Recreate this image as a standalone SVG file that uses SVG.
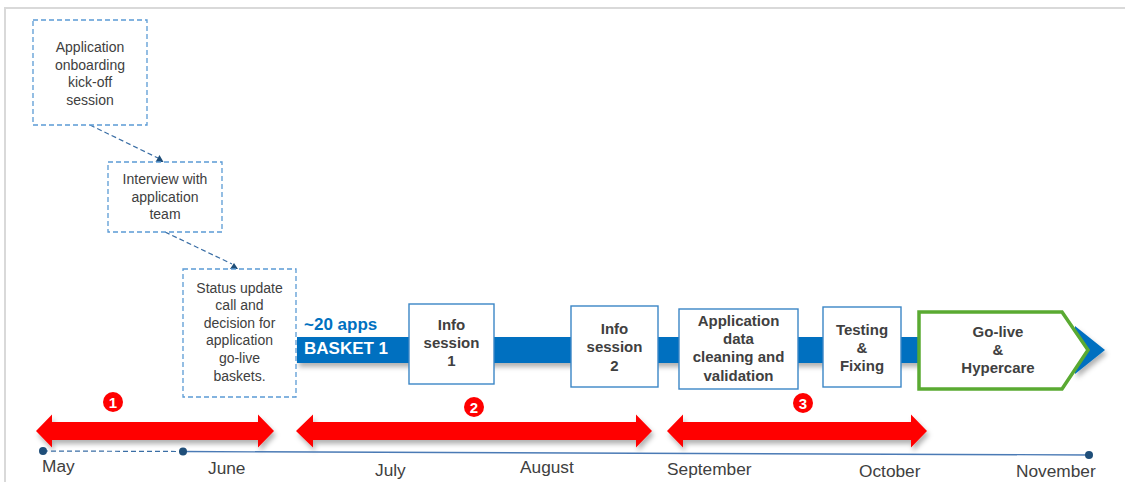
<svg xmlns="http://www.w3.org/2000/svg" width="1125" height="482" viewBox="0 0 1125 482">
  <defs>
    <filter id="shadow" x="-5%" y="-40%" width="110%" height="200%">
      <feDropShadow dx="2" dy="4" stdDeviation="2.5" flood-color="#000" flood-opacity="0.3"/>
    </filter>
    <style>
      .frame { fill: none; stroke: #d9d9d9; stroke-width: 2; }
      .dash-box { fill: #fff; stroke: #5b9bd5; stroke-width: 1.3; stroke-dasharray: 5 3; }
      .task-box { fill: #fff; stroke: #3b86c6; stroke-width: 1.4; }
      .note { font-family: "Liberation Sans", Arial, sans-serif; font-size: 14px; fill: #404040; text-anchor: middle; }
      .task { font-family: "Liberation Sans", Arial, sans-serif; font-size: 15px; font-weight: bold; fill: #404040; text-anchor: middle; }
      .month { font-family: "Liberation Sans", Arial, sans-serif; font-size: 17.3px; fill: #404040; }
      .link { fill: none; stroke: #3a6ea5; stroke-width: 1.2; stroke-dasharray: 5 3; }
      .head { fill: #1f4e79; }
      .span { fill: #ff0000; }
      .badge { fill: #ff0000; }
      .badge-num { font-family: "Liberation Sans", Arial, sans-serif; font-size: 15px; font-weight: bold; fill: #fff; text-anchor: middle; }
    </style>
  </defs>

  <rect width="1125" height="482" fill="#fff"/>
  <rect class="frame" x="5" y="8" width="1130" height="480"/>

  <!-- main blue timeline band -->
  <g id="band" filter="url(#shadow)">
    <rect x="297" y="337" width="780" height="26" fill="#0070c0"/>
    <polygon points="1075,326 1105,350 1075,374" fill="#0070c0"/>
  </g>
  <text x="304" y="330" font-family="Liberation Sans, Arial, sans-serif" font-size="17" font-weight="bold" fill="#0070c0">~20 apps</text>
  <text x="304" y="354" font-family="Liberation Sans, Arial, sans-serif" font-size="17" font-weight="bold" fill="#fff">BASKET 1</text>

  <!-- connectors between preparation steps -->
  <g id="connectors">
    <line class="link" x1="90" y1="125" x2="158" y2="158"/>
    <polygon class="head" points="159.5,155 155.5,162 163.5,162"/>
    <line class="link" x1="165" y1="232" x2="232" y2="264"/>
    <polygon class="head" points="234,263 230,269 238,269"/>
  </g>

  <!-- preparation steps -->
  <g id="kickoff">
    <rect class="dash-box" x="33" y="20" width="114" height="105"/>
    <text class="note" x="90" y="52">Application</text>
    <text class="note" x="90" y="69.5">onboarding</text>
    <text class="note" x="90" y="87">kick-off</text>
    <text class="note" x="90" y="104.5">session</text>
  </g>
  <g id="interview">
    <rect class="dash-box" x="108" y="162" width="114" height="70"/>
    <text class="note" x="165" y="184">Interview with</text>
    <text class="note" x="165" y="201.5">application</text>
    <text class="note" x="165" y="219">team</text>
  </g>
  <g id="status-update">
    <rect class="dash-box" x="183" y="269" width="113" height="128"/>
    <text class="note" x="239.5" y="292.5">Status update</text>
    <text class="note" x="239.5" y="310">call and</text>
    <text class="note" x="239.5" y="327.5">decision for</text>
    <text class="note" x="239.5" y="345">application</text>
    <text class="note" x="239.5" y="362.5">go-live</text>
    <text class="note" x="239.5" y="380.5">baskets.</text>
  </g>

  <!-- milestones on the band -->
  <g id="info-session-1">
    <rect class="task-box" x="409" y="304" width="85" height="80"/>
    <text class="task" x="451.5" y="330">Info</text>
    <text class="task" x="451.5" y="348">session</text>
    <text class="task" x="451.5" y="366">1</text>
  </g>
  <g id="info-session-2">
    <rect class="task-box" x="571" y="306" width="87" height="81"/>
    <text class="task" x="614.5" y="334">Info</text>
    <text class="task" x="614.5" y="352">session</text>
    <text class="task" x="614.5" y="370.5">2</text>
  </g>
  <g id="data-cleaning">
    <rect class="task-box" x="679" y="309" width="119" height="80"/>
    <text class="task" x="738.5" y="326">Application</text>
    <text class="task" x="738.5" y="344">data</text>
    <text class="task" x="738.5" y="362">cleaning and</text>
    <text class="task" x="738.5" y="380.5">validation</text>
  </g>
  <g id="testing">
    <rect class="task-box" x="823" y="307" width="78" height="80"/>
    <text class="task" x="862" y="335">Testing</text>
    <text class="task" x="862" y="353">&amp;</text>
    <text class="task" x="862" y="371">Fixing</text>
  </g>
  <g id="go-live">
    <polygon points="919,312 1062,312 1088,350 1062,389 919,389" fill="#fff" stroke="#5aaa32" stroke-width="3.5" stroke-linejoin="miter"/>
    <text class="task" x="998" y="337">Go-live</text>
    <text class="task" x="998" y="354.5">&amp;</text>
    <text class="task" x="998" y="372.5">Hypercare</text>
  </g>

  <!-- phase spans -->
  <g id="phase-1">
    <polygon class="span" filter="url(#shadow)" points="36,431 52,414.5 52,422 258,422 258,414.5 274,431 258,447.5 258,440 52,440 52,447.5"/>
    <circle class="badge" cx="113" cy="402" r="10"/>
    <text class="badge-num" x="113" y="407.5">1</text>
  </g>
  <g id="phase-2">
    <polygon class="span" filter="url(#shadow)" points="296,431 313,414.5 313,422 636,422 636,414.5 652,431 636,447.5 636,440 313,440 313,447.5"/>
    <circle class="badge" cx="474" cy="407" r="10"/>
    <text class="badge-num" x="474" y="412.5">2</text>
  </g>
  <g id="phase-3">
    <polygon class="span" filter="url(#shadow)" points="667,431 683,414.5 683,422 911,422 911,414.5 927,431 911,447.5 911,440 683,440 683,447.5"/>
    <circle class="badge" cx="803" cy="403" r="10"/>
    <text class="badge-num" x="803" y="408.5">3</text>
  </g>

  <!-- month axis -->
  <g id="axis">
    <line x1="43" y1="451" x2="183" y2="451.5" stroke="#3a6ea5" stroke-width="1.2" stroke-dasharray="5 3"/>
    <line x1="183" y1="451.5" x2="1089" y2="455" stroke="#4a7ab5" stroke-width="1.3"/>
    <circle cx="43" cy="451" r="4" fill="#1f4e79"/>
    <circle cx="183" cy="451.5" r="4" fill="#1f4e79"/>
    <circle cx="1089" cy="455" r="4" fill="#1f4e79"/>
    <text class="month" x="42" y="472">May</text>
    <text class="month" x="208" y="474">June</text>
    <text class="month" x="375" y="476">July</text>
    <text class="month" x="520" y="473">August</text>
    <text class="month" x="667" y="475">September</text>
    <text class="month" x="859" y="477">October</text>
    <text class="month" x="1016" y="477">November</text>
  </g>
</svg>
